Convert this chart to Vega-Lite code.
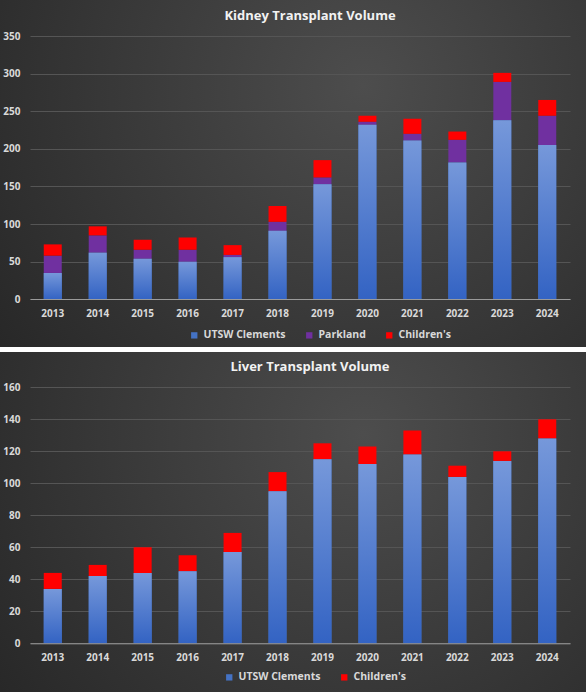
{
  "$schema": "https://vega.github.io/schema/vega-lite/v6.json",
  "background": "white",
  "padding": 0,
  "spacing": 5,
  "config": {
    "view": {"stroke": null},
    "font": "Open Sans",
    "axis": {"labelFont": "Open Sans", "labelFontWeight": "bold", "labelFontSize": 10, "labelColor": "#d9d9d9", "title": null},
    "legend": {"labelFont": "Open Sans", "labelFontWeight": "bold", "labelFontSize": 10.5, "labelColor": "#d9d9d9"}
  },
  "resolve": {"scale": {"x": "independent", "y": "independent", "color": "independent"}, "legend": {"color": "independent"}},
  "datasets": {
    "kidney": [
      {"year": "2013", "series": "UTSW Clements", "value": 35}, {"year": "2013", "series": "Parkland", "value": 23}, {"year": "2013", "series": "Children's", "value": 15},
      {"year": "2014", "series": "UTSW Clements", "value": 62}, {"year": "2014", "series": "Parkland", "value": 23}, {"year": "2014", "series": "Children's", "value": 12},
      {"year": "2015", "series": "UTSW Clements", "value": 54}, {"year": "2015", "series": "Parkland", "value": 12}, {"year": "2015", "series": "Children's", "value": 13},
      {"year": "2016", "series": "UTSW Clements", "value": 50}, {"year": "2016", "series": "Parkland", "value": 16}, {"year": "2016", "series": "Children's", "value": 16},
      {"year": "2017", "series": "UTSW Clements", "value": 56}, {"year": "2017", "series": "Parkland", "value": 3}, {"year": "2017", "series": "Children's", "value": 13},
      {"year": "2018", "series": "UTSW Clements", "value": 91}, {"year": "2018", "series": "Parkland", "value": 12}, {"year": "2018", "series": "Children's", "value": 21},
      {"year": "2019", "series": "UTSW Clements", "value": 153}, {"year": "2019", "series": "Parkland", "value": 9}, {"year": "2019", "series": "Children's", "value": 23},
      {"year": "2020", "series": "UTSW Clements", "value": 232}, {"year": "2020", "series": "Parkland", "value": 4}, {"year": "2020", "series": "Children's", "value": 8},
      {"year": "2021", "series": "UTSW Clements", "value": 211}, {"year": "2021", "series": "Parkland", "value": 9}, {"year": "2021", "series": "Children's", "value": 20},
      {"year": "2022", "series": "UTSW Clements", "value": 182}, {"year": "2022", "series": "Parkland", "value": 30}, {"year": "2022", "series": "Children's", "value": 11},
      {"year": "2023", "series": "UTSW Clements", "value": 238}, {"year": "2023", "series": "Parkland", "value": 51}, {"year": "2023", "series": "Children's", "value": 12},
      {"year": "2024", "series": "UTSW Clements", "value": 205}, {"year": "2024", "series": "Parkland", "value": 39}, {"year": "2024", "series": "Children's", "value": 21}
    ],
    "liver": [
      {"year": "2013", "series": "UTSW Clements", "value": 34}, {"year": "2013", "series": "Children's", "value": 10},
      {"year": "2014", "series": "UTSW Clements", "value": 42}, {"year": "2014", "series": "Children's", "value": 7},
      {"year": "2015", "series": "UTSW Clements", "value": 44}, {"year": "2015", "series": "Children's", "value": 16},
      {"year": "2016", "series": "UTSW Clements", "value": 45}, {"year": "2016", "series": "Children's", "value": 10},
      {"year": "2017", "series": "UTSW Clements", "value": 57}, {"year": "2017", "series": "Children's", "value": 12},
      {"year": "2018", "series": "UTSW Clements", "value": 95}, {"year": "2018", "series": "Children's", "value": 12},
      {"year": "2019", "series": "UTSW Clements", "value": 115}, {"year": "2019", "series": "Children's", "value": 10},
      {"year": "2020", "series": "UTSW Clements", "value": 112}, {"year": "2020", "series": "Children's", "value": 11},
      {"year": "2021", "series": "UTSW Clements", "value": 118}, {"year": "2021", "series": "Children's", "value": 15},
      {"year": "2022", "series": "UTSW Clements", "value": 104}, {"year": "2022", "series": "Children's", "value": 7},
      {"year": "2023", "series": "UTSW Clements", "value": 114}, {"year": "2023", "series": "Children's", "value": 6},
      {"year": "2024", "series": "UTSW Clements", "value": 128}, {"year": "2024", "series": "Children's", "value": 12}
    ]
  },
  "vconcat": [
    {
      "width": 586,
      "height": 347,
      "view": {"stroke": null, "fill": {"gradient": "radial", "x1": 0.62, "y1": 0.35, "r1": 0, "x2": 0.62, "y2": 0.35, "r2": 0.8, "stops": [{"offset": 0, "color": "#4d4d4d"}, {"offset": 1, "color": "#262626"}]}},
      "title": {"text": "Kidney Transplant Volume", "orient": "top", "anchor": "middle", "frame": "group", "offset": -23, "dx": 17, "baseline": "top", "color": "#f2f2f2", "fontSize": 13, "fontWeight": "bold", "font": "Open Sans"},
      "layer": [
        {
          "data": {"name": "kidney"},
          "mark": {"type": "bar"},
          "encoding": {
            "x": {"field": "year", "type": "ordinal", "scale": {"range": [30, 570], "paddingInner": 0.6, "paddingOuter": 0.306},
                  "axis": {"orient": "bottom", "offset": -48, "labelAngle": 0, "ticks": false, "labelPadding": 9, "domainColor": "#9a9a9a", "domainWidth": 1, "grid": false, "zindex": 1}},
            "y": {"field": "value", "type": "quantitative", "stack": "zero", "scale": {"domain": [0, 350], "range": [299.3, 36], "nice": false, "zero": true},
                  "axis": {"values": [0, 50, 100, 150, 200, 250, 300, 350], "offset": -30, "domain": false, "ticks": false, "labelPadding": 10, "gridColor": "#555555", "gridWidth": 1}},
            "color": {"field": "series", "type": "nominal", "sort": ["UTSW Clements", "Parkland", "Children's"],
                      "scale": {"domain": ["UTSW Clements", "Parkland", "Children's"], "range": ["#4472c4", "#7030a0", "#ff0000"]},
                      "legend": {"title": null, "orient": "none", "direction": "horizontal", "legendX": 189, "legendY": 330, "symbolType": "square", "symbolSize": 40, "symbolStrokeWidth": 0, "columnPadding": 18, "labelOffset": 4}}
          }
        },
        {
          "data": {"name": "kidney"},
          "transform": [{"filter": "datum.series === 'UTSW Clements'"}],
          "mark": {"type": "bar", "fill": {"gradient": "linear", "x1": 0, "y1": 0, "x2": 0, "y2": 1, "stops": [{"offset": 0, "color": "#7698da"}, {"offset": 1, "color": "#3363c3"}]}},
          "encoding": {
            "x": {"field": "year", "type": "ordinal"},
            "y": {"field": "value", "type": "quantitative", "stack": null}
          }
        }
      ]
    },
    {
      "width": 586,
      "height": 340,
      "view": {"stroke": null, "fill": {"gradient": "radial", "x1": 0.62, "y1": 0.35, "r1": 0, "x2": 0.62, "y2": 0.35, "r2": 0.8, "stops": [{"offset": 0, "color": "#4d4d4d"}, {"offset": 1, "color": "#262626"}]}},
      "title": {"text": "Liver Transplant Volume", "orient": "top", "anchor": "middle", "frame": "group", "offset": -22, "dx": 17, "baseline": "top", "color": "#f2f2f2", "fontSize": 13, "fontWeight": "bold", "font": "Open Sans"},
      "layer": [
        {
          "data": {"name": "liver"},
          "mark": {"type": "bar"},
          "encoding": {
            "x": {"field": "year", "type": "ordinal", "scale": {"range": [30, 570], "paddingInner": 0.6, "paddingOuter": 0.306},
                  "axis": {"orient": "bottom", "offset": -48.7, "labelAngle": 0, "ticks": false, "labelPadding": 9, "domainColor": "#9a9a9a", "domainWidth": 1, "grid": false, "zindex": 1}},
            "y": {"field": "value", "type": "quantitative", "stack": "zero", "scale": {"domain": [0, 160], "range": [291.3, 35.3], "nice": false, "zero": true},
                  "axis": {"values": [0, 20, 40, 60, 80, 100, 120, 140, 160], "offset": -30, "domain": false, "ticks": false, "labelPadding": 10, "gridColor": "#555555", "gridWidth": 1}},
            "color": {"field": "series", "type": "nominal", "sort": ["UTSW Clements", "Children's"],
                      "scale": {"domain": ["UTSW Clements", "Children's"], "range": ["#4472c4", "#ff0000"]},
                      "legend": {"title": null, "orient": "none", "direction": "horizontal", "legendX": 224, "legendY": 320, "symbolType": "square", "symbolSize": 40, "symbolStrokeWidth": 0, "columnPadding": 18, "labelOffset": 4}}
          }
        },
        {
          "data": {"name": "liver"},
          "transform": [{"filter": "datum.series === 'UTSW Clements'"}],
          "mark": {"type": "bar", "fill": {"gradient": "linear", "x1": 0, "y1": 0, "x2": 0, "y2": 1, "stops": [{"offset": 0, "color": "#7698da"}, {"offset": 1, "color": "#3363c3"}]}},
          "encoding": {
            "x": {"field": "year", "type": "ordinal"},
            "y": {"field": "value", "type": "quantitative", "stack": null}
          }
        }
      ]
    }
  ]
}
